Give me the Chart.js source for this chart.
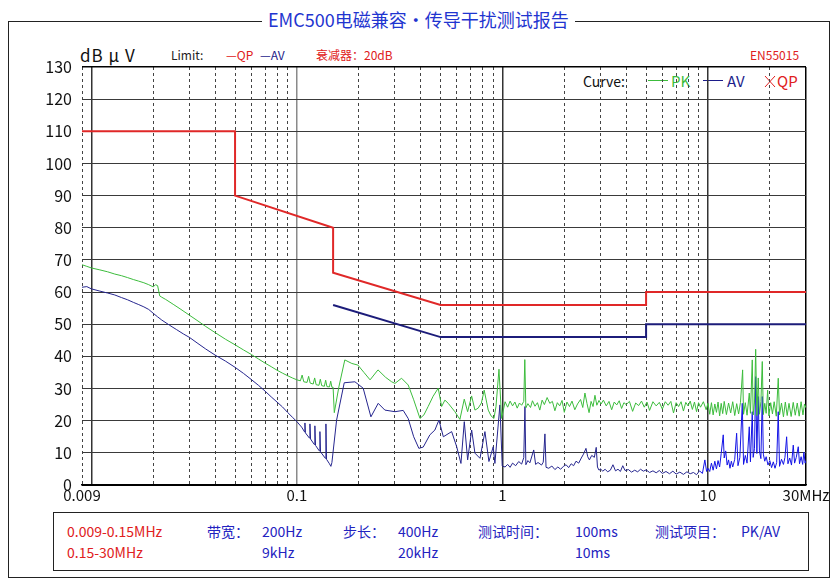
<!DOCTYPE html>
<html>
<head>
<meta charset="utf-8">
<script src="https://cdn.jsdelivr.net/npm/chart.js@4.4.1/dist/chart.umd.min.js"></script>
<style>
html, body { margin: 0; padding: 0; background: #fff; }
body { width: 835px; height: 581px; position: relative; overflow: hidden; font-family: "Noto Sans CJK SC", "Noto Sans", sans-serif; }
.t { position: absolute; white-space: nowrap; line-height: 1; }
#frame { position: absolute; left: 8px; top: 21px; width: 820px; height: 555px; border: 1.5px solid #222; }
#title { left: 262px; top: 10px; padding: 0 6px; background: #fff; color: #1f35d0; font-size: 18px; }
#table { position: absolute; left: 53px; top: 512px; width: 754px; height: 57px; border: 1.5px solid #222; }
.red { color: #e02020; }
.blue { color: #2323c0; }
.r1 { top: 524px; font-size: 14px; }
.r2 { top: 545px; font-size: 14px; }
.hd { font-size: 12px; top: 49px; }
.seg { position: absolute; height: 0; border-top: 1.5px solid; }
canvas { position: absolute; left: 0; top: 0; }
</style>
</head>
<body>
<div id="frame"></div>
<div class="t" id="title">EMC500电磁兼容・传导干扰测试报告</div>

<div class="t" style="left:80px;top:46px;font-size:17px;color:#111;letter-spacing:1px">dB μ V</div>
<div class="t hd" style="left:171px;color:#222">Limit:</div>
<div class="t hd red" style="left:226px">—QP</div>
<div class="t hd" style="left:260px;color:#1c1c8a">—AV</div>
<div class="t hd red" style="left:316px">衰减器：20dB</div>
<div class="t hd red" style="left:750px">EN55015</div>

<div class="t" style="left:583px;top:74px;font-size:14px;color:#111">Curve:</div>
<div class="seg" style="left:648px;top:80px;width:20px;color:#3cbc3c"></div>
<div class="t" style="left:671px;top:73px;font-size:15px;color:#3cbc3c">PK</div>
<div class="seg" style="left:703px;top:80px;width:20px;color:#1c1c8a"></div>
<div class="t" style="left:727px;top:73px;font-size:15px;color:#1c1c8a">AV</div>
<svg style="position:absolute;left:764px;top:75px" width="12" height="13"><line x1="1" y1="1" x2="11" y2="12" stroke="#e02020" stroke-width="1"/><line x1="11" y1="1" x2="1" y2="12" stroke="#e02020" stroke-width="1"/></svg>
<div class="t red" style="left:777px;top:73px;font-size:15px">QP</div>

<div id="table"></div>
<div class="t r1 red" style="left:67px">0.009-0.15MHz</div>
<div class="t r1 blue" style="left:207px">带宽：</div>
<div class="t r1 blue" style="left:262px">200Hz</div>
<div class="t r1 blue" style="left:343px">步长：</div>
<div class="t r1 blue" style="left:398px">400Hz</div>
<div class="t r1 blue" style="left:478px">测试时间：</div>
<div class="t r1 blue" style="left:575px">100ms</div>
<div class="t r1 blue" style="left:655px">测试项目：</div>
<div class="t r1 blue" style="left:741px">PK/AV</div>
<div class="t r2 red" style="left:67px">0.15-30MHz</div>
<div class="t r2 blue" style="left:262px">9kHz</div>
<div class="t r2 blue" style="left:398px">20kHz</div>
<div class="t r2 blue" style="left:575px">10ms</div>

<canvas id="c" width="835" height="581"></canvas>

<script>
// x ticks (MHz) and their labels
const xTickValues = [0.009, 0.01, 0.02, 0.03, 0.04, 0.05, 0.06, 0.07, 0.08, 0.09,
    0.1, 0.2, 0.3, 0.4, 0.5, 0.6, 0.7, 0.8, 0.9,
    1, 2, 3, 4, 5, 6, 7, 8, 9, 10, 20, 30]
const xTickLabels = ['0.009', '', '', '', '', '', '', '', '', '',
    '0.1', '', '', '', '', '', '', '', '',
    '1', '', '', '', '', '', '', '', '', '10', '', '30MHz']

// limit lines, [MHz, dBuV]
const qpLimit = [[0.009, 110], [0.05, 110], [0.05, 90], [0.15, 80], [0.15, 66], [0.5, 56], [5, 56], [5, 60], [30, 60]]
const avLimit = [[0.15, 56], [0.5, 46], [5, 46], [5, 50], [30, 50]]

// PK trace
const pkLow = [[0.009, 68.5], [0.0095, 68.0], [0.010, 67.5], [0.011, 66.9], [0.012, 66.3], [0.013, 65.6], [0.014, 65.1], [0.015, 64.5],
    [0.016, 63.9], [0.017, 63.4], [0.018, 62.9], [0.019, 62.3], [0.020, 61.6], [0.0205, 62.3], [0.021, 62.0], [0.0215, 58.8], [0.022, 58.4],
    [0.023, 57.7], [0.025, 56.2], [0.027, 54.8], [0.030, 52.8], [0.033, 51.0], [0.036, 49.3], [0.040, 47.4], [0.045, 45.3], [0.050, 43.6],
    [0.055, 42.0], [0.060, 40.6], [0.065, 39.2], [0.070, 37.9], [0.075, 36.8], [0.080, 35.7], [0.085, 34.8], [0.090, 34.0], [0.095, 33.3],
    [0.100, 32.7], [0.104, 32.4], [0.106, 34.2], [0.108, 32.1], [0.112, 31.9], [0.114, 33.8], [0.116, 31.7], [0.120, 31.4], [0.122, 33.3],
    [0.124, 31.2], [0.128, 31.0], [0.130, 32.9], [0.132, 30.9], [0.136, 30.7], [0.138, 32.6], [0.140, 30.6], [0.144, 30.5], [0.146, 32.3],
    [0.148, 30.4], [0.150, 30.4]]
const pkMid = [[0.152, 22.5], [0.160, 30.5], [0.171, 38.9], [0.185, 37.8], [0.198, 37.3], [0.212, 35.0], [0.227, 32.7], [0.248, 35.8],
    [0.270, 33.5], [0.289, 32.1], [0.300, 31.6], [0.323, 33.2], [0.348, 31.1], [0.370, 26.5], [0.397, 20.7], [0.415, 21.8], [0.435, 24.4],
    [0.460, 27.6], [0.487, 30.1], [0.506, 24.4], [0.525, 26.4], [0.545, 25.4], [0.587, 22.8], [0.621, 20.4], [0.652, 26.7], [0.677, 22.8],
    [0.708, 27.7], [0.735, 23.3], [0.762, 23.9], [0.790, 25.5], [0.815, 29.5], [0.853, 23.3], [0.880, 21.5], [0.909, 20.7], [0.930, 24.3],
    [0.962, 36.0], [0.991, 20.7]]
const pkHigh = [[1.03, 25.9], [1.06, 24.2], [1.09, 26.1], [1.12, 24.6], [1.15, 25.8], [1.18, 23.9], [1.21, 25.5], [1.24, 24.8], [1.27, 26.0],
    [1.285, 39.0], [1.30, 24.0], [1.33, 25.3], [1.37, 24.1], [1.40, 26.2], [1.44, 24.5], [1.48, 25.6], [1.52, 23.3], [1.56, 26.4], [1.60, 25.0],
    [1.65, 27.2], [1.70, 25.4], [1.75, 26.0], [1.80, 23.1], [1.85, 25.6], [1.90, 24.6], [1.95, 26.3], [2.00, 22.6], [2.06, 25.8], [2.12, 24.4],
    [2.18, 26.1], [2.25, 23.4], [2.32, 25.2], [2.40, 26.6], [2.46, 24.1], [2.52, 28.6], [2.58, 25.3], [2.64, 22.5], [2.70, 26.0], [2.76, 24.4],
    [2.82, 27.9], [2.88, 24.8], [2.95, 26.3], [3.02, 25.2], [3.10, 26.4], [3.20, 24.6], [3.30, 26.0], [3.40, 23.4], [3.50, 25.8], [3.60, 24.9],
    [3.70, 26.2], [3.80, 23.8], [3.90, 25.6], [4.00, 25.0], [4.15, 26.0], [4.30, 22.9], [4.45, 25.5], [4.60, 24.7], [4.75, 26.1], [4.90, 24.2],
    [5.05, 25.8], [5.20, 23.2], [5.40, 25.9], [5.60, 24.6], [5.80, 25.7], [6.00, 23.6], [6.20, 25.9], [6.40, 24.8], [6.60, 26.0], [6.80, 22.4],
    [7.00, 25.6], [7.20, 24.4], [7.40, 25.9], [7.60, 23.0], [7.80, 25.7], [8.00, 24.6], [8.20, 26.1], [8.40, 23.5], [8.60, 25.8], [8.80, 22.8],
    [9.00, 25.6], [9.20, 24.2], [9.50, 25.9], [9.80, 23.4], [10.0, 25.4]]
const pkTop = [[10.2, 22.0], [10.4, 25.6], [10.6, 21.8], [10.8, 25.2], [11.0, 22.6], [11.2, 25.8], [11.4, 21.5], [11.6, 25.4], [11.8, 22.2],
    [12.0, 26.0], [12.3, 21.9], [12.6, 25.5], [12.9, 22.4], [13.2, 25.9], [13.5, 21.6], [13.8, 25.3], [14.1, 22.1], [14.4, 25.7], [14.75, 35.8],
    [14.9, 22.0], [15.2, 25.6], [15.5, 21.7], [15.89, 28.6], [16.1, 22.3], [16.43, 38.9], [16.6, 21.8], [16.85, 25.8], [17.07, 42.2], [17.3, 21.6],
    [17.57, 33.3], [17.8, 22.0], [18.1, 25.9], [18.38, 38.4], [18.6, 21.9], [18.9, 25.4], [19.2, 22.3], [19.52, 29.5], [19.8, 21.5], [20.2, 25.6],
    [20.6, 22.1], [21.0, 25.9], [21.5, 21.4], [21.98, 33.2], [22.3, 21.8], [22.8, 25.5], [23.3, 21.2], [23.8, 25.8], [24.3, 21.6], [24.8, 25.4],
    [25.4, 21.3], [26.0, 25.7], [26.6, 21.7], [27.2, 25.5], [27.8, 21.4], [28.4, 25.9], [29.0, 21.8], [29.5, 25.2], [30.0, 24.0]]

// AV trace
const avLow = [[0.009, 61.5], [0.0095, 61.7], [0.010, 61.0], [0.011, 60.3], [0.012, 59.7], [0.013, 59.1], [0.014, 58.3], [0.015, 57.6],
    [0.016, 56.8], [0.017, 56.1], [0.018, 55.4], [0.019, 54.6], [0.020, 53.4], [0.021, 52.3], [0.022, 51.3], [0.024, 49.7], [0.026, 48.3],
    [0.028, 47.0], [0.030, 45.9], [0.033, 44.0], [0.036, 42.3], [0.040, 40.4], [0.045, 38.5], [0.050, 36.6], [0.055, 34.7], [0.060, 32.8],
    [0.065, 31.0], [0.070, 29.2], [0.075, 27.4], [0.080, 25.8], [0.085, 24.3], [0.090, 22.6], [0.095, 21.1], [0.100, 19.7], [0.1054, 18.0],
    [0.1090, 16.5], [0.1094, 19.3], [0.1100, 16.2], [0.1150, 14.6], [0.1157, 19.0], [0.1165, 14.3], [0.1215, 12.6], [0.1223, 18.4],
    [0.1232, 12.3], [0.1285, 10.6], [0.1294, 16.6], [0.1303, 10.3], [0.1375, 8.3], [0.1384, 19.0], [0.1393, 8.0], [0.1440, 6.6],
    [0.1463, 5.8], [0.1480, 7.0]]
const avMid = [[0.1560, 20.2], [0.1699, 31.8], [0.1915, 32.1], [0.2101, 30.1], [0.2291, 21.2], [0.2486, 25.4], [0.2679, 23.3], [0.2999, 22.8],
    [0.3290, 23.2], [0.3478, 20.7], [0.3700, 15.0], [0.3920, 11.4], [0.4118, 11.8], [0.4435, 15.6], [0.4692, 17.1], [0.4909, 20.2],
    [0.5158, 15.0], [0.5662, 16.6], [0.5990, 11.9], [0.6283, 6.7], [0.6522, 19.7], [0.6772, 7.8], [0.7084, 17.1], [0.7350, 9.9],
    [0.7777, 8.3], [0.8219, 16.6], [0.8596, 7.3], [0.9018, 11.9], [0.9191, 6.7], [0.9722, 24.9], [0.9977, 5.9]]
const avHigh = [[1.03, 5.6], [1.06, 6.4], [1.09, 5.5], [1.12, 6.8], [1.16, 6.0], [1.20, 7.3], [1.24, 6.5], [1.27, 8.5], [1.287, 24.4],
    [1.30, 6.3], [1.33, 7.6], [1.36, 6.9], [1.42, 10.9], [1.45, 6.4], [1.49, 7.0], [1.55, 6.2], [1.58, 7.1], [1.61, 15.9], [1.63, 5.5],
    [1.68, 5.2], [1.74, 5.9], [1.80, 4.8], [1.86, 5.6], [1.92, 4.9], [1.98, 5.8], [2.04, 6.3], [2.10, 5.4], [2.16, 6.6], [2.22, 6.0],
    [2.28, 7.4], [2.35, 6.8], [2.42, 8.4], [2.48, 9.6], [2.55, 11.4], [2.60, 8.8], [2.65, 7.8], [2.72, 9.2], [2.80, 8.6], [2.86, 11.7],
    [2.90, 5.6], [2.95, 4.6], [3.00, 5.0], [3.08, 4.3], [3.16, 4.9], [3.25, 4.1], [3.35, 4.6], [3.45, 6.3], [3.55, 4.4], [3.65, 4.9],
    [3.75, 4.2], [3.85, 6.0], [3.95, 4.5], [4.10, 4.8], [4.25, 4.0], [4.40, 4.6], [4.55, 4.1], [4.70, 4.9], [4.85, 4.3], [5.00, 4.7],
    [5.20, 3.9], [5.40, 4.4], [5.60, 3.8], [5.80, 4.5], [6.00, 3.6], [6.25, 4.2], [6.50, 3.5], [6.75, 4.3], [7.00, 3.4], [7.30, 4.0],
    [7.60, 3.3], [7.90, 4.1], [8.20, 3.5], [8.50, 3.9], [8.80, 3.2], [9.10, 4.4], [9.40, 3.6], [9.66, 7.8], [9.85, 4.2], [10.0, 5.2]]
const avTop = [[10.2, 4.2], [10.4, 6.8], [10.6, 4.6], [10.8, 7.4], [11.0, 5.0], [11.2, 7.6], [11.4, 5.6], [11.6, 9.8], [11.87, 15.6],
    [12.0, 8.4], [12.2, 10.6], [12.4, 6.2], [12.6, 7.8], [12.8, 5.2], [13.0, 7.4], [13.2, 5.6], [13.5, 8.0], [13.79, 16.1], [14.0, 6.0],
    [14.3, 8.6], [14.69, 25.4], [14.9, 6.4], [15.2, 9.2], [15.5, 6.8], [15.89, 18.1], [16.1, 7.2], [16.43, 22.8], [16.6, 8.6], [16.85, 11.4],
    [17.07, 33.7], [17.3, 9.8], [17.57, 27.5], [17.8, 10.6], [18.1, 8.2], [18.38, 27.5], [18.6, 9.6], [18.9, 7.4], [19.2, 8.8], [19.6, 6.2],
    [20.0, 7.6], [20.4, 5.4], [20.8, 7.2], [21.2, 5.2], [21.6, 7.0], [21.98, 22.8], [22.3, 5.8], [22.8, 8.0], [23.3, 6.4], [23.7, 8.6],
    [24.15, 15.0], [24.5, 6.6], [25.0, 8.4], [25.5, 6.2], [26.01, 12.4], [26.4, 6.8], [26.9, 8.6], [27.51, 11.9], [27.9, 6.6], [28.4, 8.8],
    [28.9, 6.4], [29.3, 10.2], [29.7, 6.8], [30.0, 7.6]]

const toXY = arr => arr.map(p => ({ x: p[0], y: p[1] }))
const isDecade = v => Math.abs(Math.log10(v) - Math.round(Math.log10(v))) < 1e-6

const lineDs = (data, color, width) => ({
    data: toXY(data), borderColor: color, borderWidth: width,
    pointRadius: 0, tension: 0, fill: false
})

const pkDs = lineDs([...pkLow, ...pkMid, ...pkHigh, ...pkTop], '#3cbc3c', 1)
const avDs = lineDs([...avLow, ...avMid, ...avHigh, ...avTop], '#25258e', 1)
avDs.segment = { borderColor: c => c.p0.parsed.x >= 9 ? '#1414e6' : '#25258e' }

new Chart(document.getElementById('c'), {
    type: 'line',
    data: {
        datasets: [
            pkDs,
            avDs,
            lineDs(qpLimit, '#e02828', 2),
            lineDs(avLimit, '#1c1c7a', 2)
        ]
    },
    options: {
        responsive: false,
        animation: false,
        layout: { padding: { top: 67, right: 29, bottom: 66, left: 0 } },
        plugins: { legend: { display: false }, tooltip: { enabled: false } },
        scales: {
            x: {
                type: 'logarithmic',
                min: 0.009,
                max: 30,
                afterBuildTicks: s => { s.ticks = xTickValues.map(v => ({ value: v })) },
                afterFit: s => { s.height = 30 },
                ticks: {
                    autoSkip: false, maxRotation: 0, padding: 1,
                    color: '#111', font: { family: '"Noto Sans CJK SC", sans-serif', size: 15 },
                    callback: (v, i) => xTickLabels[i]
                },
                grid: {
                    drawTicks: false,
                    color: c => {
                        const v = c.tick.value
                        if (v === 30) return '#000'
                        if (v === 0.1) return '#8a8a8a'
                        return isDecade(v) ? '#333' : '#444'
                    },
                    lineWidth: c => (isDecade(c.tick.value) || c.tick.value === 30) ? 1.5 : 1
                },
                border: {
                    display: true, color: '#000', width: 1.5,
                    dash: c => (c.tick && !isDecade(c.tick.value) && c.tick.value !== 30) ? [3, 3] : []
                }
            },
            y: {
                min: 0,
                max: 130,
                afterFit: s => { s.width = 82 },
                ticks: {
                    stepSize: 10, padding: 10,
                    color: '#111', font: { family: '"Noto Sans CJK SC", sans-serif', size: 16 }
                },
                grid: {
                    drawTicks: false,
                    color: c => (c.tick.value === 130 || c.tick.value === 0) ? '#000' : '#3a3a3a',
                    lineWidth: c => c.tick.value === 130 ? 1.5 : 1
                },
                border: { display: false }
            }
        }
    }
})
</script>
</body>
</html>
